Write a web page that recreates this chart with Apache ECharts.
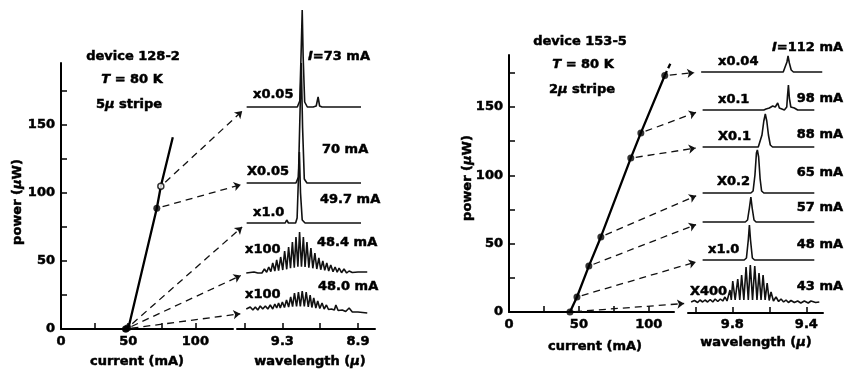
<!DOCTYPE html>
<html>
<head>
<meta charset="utf-8">
<script src="https://cdn.jsdelivr.net/npm/echarts@6/dist/echarts.min.js"></script>
<style>
html, body { margin: 0; padding: 0; background: #fff; }
#main { width: 849px; height: 373px; }
</style>
</head>
<body>
<div id="main"></div>
<script>
// ---- device 128-2 (left) ----
// light-current curve, current in mA, power in uW
var leftLineI = [50, 71.3, 74.3, 83.2];
var leftLineP = [0, 88.5, 104.6, 140.5];
// operating points where the spectra were taken
var leftDotI = [48.0, 48.4, 49.7, 71.3, 74.3];
var leftDotP = [0, 0, 1, 88.5, 104.6];
var leftSpecNames = ['48.0 mA', '48.4 mA', '49.7 mA', '70 mA', 'I=73 mA'];
var leftSpecScale = ['x100', 'x100', 'x1.0', 'X0.05', 'x0.05'];
var leftSpecOffset = [16, 56, 106, 146, 222];
// spectra: wavelength (micron) / relative intensity
var spL480W = [9.491, 9.470, 9.456, 9.443, 9.430, 9.417, 9.404, 9.390, 9.377, 9.364, 9.351, 9.340, 9.330, 9.320, 9.311, 9.300, 9.289, 9.278, 9.267, 9.256, 9.246, 9.236, 9.225, 9.215, 9.205, 9.195, 9.184, 9.174, 9.163, 9.153, 9.144, 9.134, 9.123, 9.113, 9.102, 9.090, 9.079, 9.067, 9.056, 9.040, 9.025, 9.017, 9.005, 8.983, 8.965, 8.947, 8.930, 8.900, 8.851];
var spL480V = [4, 6, 3, 6, 3, 7, 4, 7, 4, 8, 4, 9, 5, 10, 5, 11, 5.5, 13, 6, 16, 6.3, 20, 6.5, 21, 6.5, 22, 6.5, 21, 6, 18, 5.5, 15, 5, 12, 4.5, 10, 4, 8, 3.5, 4, 3, 8, 2.5, 3, 1.5, 5, 1, 1, 0];
var spL484W = [9.491, 9.450, 9.430, 9.421, 9.408, 9.395, 9.383, 9.372, 9.361, 9.351, 9.340, 9.330, 9.320, 9.309, 9.298, 9.288, 9.277, 9.267, 9.257, 9.247, 9.237, 9.228, 9.218, 9.209, 9.199, 9.189, 9.180, 9.170, 9.160, 9.149, 9.139, 9.128, 9.118, 9.107, 9.097, 9.086, 9.076, 9.065, 9.055, 9.044, 9.032, 9.021, 9.010, 9.000, 8.987, 8.974, 8.960, 8.947, 8.930, 8.900, 8.851];
var spL484V = [0, 1, 0, 2, 0, 4, 0.7, 6, 1.3, 10, 2, 13, 2.3, 16, 3, 22, 3.7, 26, 4.7, 31, 5.3, 36, 6.3, 41, 6.3, 36, 6, 31, 5.3, 25, 4.7, 20, 4, 15, 3.3, 12, 2.7, 10, 2, 8, 1.3, 6, 0.7, 5, 0.3, 4, 0, 2, 0.5, 1, 1];
var spL497W = [9.489, 9.300, 9.292, 9.285, 9.277, 9.268, 9.255, 9.230, 9.222, 9.215, 9.210, 9.204, 9.195, 9.180, 8.884];
var spL497V = [0, 0, 2, 0, 3, 0, 0, 0, 5, 45, 71, 30, 3, 0, 0];
var spL700W = [9.489, 9.228, 9.215, 9.208, 9.200, 9.193, 9.184, 9.170, 8.884];
var spL700V = [0, 0, 6, 60, 120, 55, 4, 0, 0];
var spL730W = [9.489, 9.221, 9.208, 9.200, 9.195, 9.190, 9.182, 9.168, 9.137, 9.121, 9.111, 9.103, 9.090, 8.884];
var spL730V = [0, 0, 6, 60, 97, 50, 5, 0, 0, 1, 10, 1, 0, 0];

// ---- device 153-5 (right) ----
var rightDotI = [43.6, 48.6, 57.1, 65.7, 87.1, 94.3, 111.4];
var rightDotP = [0, 11, 33.6, 54.9, 112.6, 131, 173];
var rightExtI = [111.4, 116];
var rightExtP = [173, 183];
var rightSpecNames = ['43 mA', '48 mA', '57 mA', '65 mA', '88 mA', '98 mA', 'I=112 mA'];
var rightSpecScale = ['X400', 'x1.0', '', 'X0.2', 'X0.1', 'x0.1', 'x0.04'];
var rightSpecOffset = [10, 53, 91, 120, 166, 203, 241];
var spR43W = [10.023, 10.005, 9.988, 9.975, 9.961, 9.948, 9.934, 9.920, 9.906, 9.893, 9.879, 9.865, 9.852, 9.840, 9.829, 9.813, 9.806, 9.798, 9.785, 9.771, 9.760, 9.750, 9.738, 9.726, 9.714, 9.703, 9.691, 9.679, 9.667, 9.656, 9.645, 9.634, 9.623, 9.612, 9.601, 9.591, 9.578, 9.564, 9.550, 9.537, 9.523, 9.510, 9.497, 9.483, 9.465, 9.447, 9.430, 9.411, 9.390, 9.375, 9.350, 9.330];
var spR43V = [1, 2.5, 0.5, 3, 1, 3, 1, 3.5, 1, 4, 1.5, 4, 2, 6, 2, 13, 3, 22, 3, 24, 3, 28, 3, 36, 3, 38, 3, 37, 3, 30, 3, 28, 3, 20, 2.5, 11, 2, 6, 1.5, 4, 1, 3, 0.5, 2.5, 0.5, 2, 0, 2, 0, 2, 0.5, 1];
var spR48W = [9.961, 9.736, 9.724, 9.714, 9.708, 9.702, 9.692, 9.680, 9.357];
var spR48V = [0, 0, 2, 20, 35, 20, 2, 0, 0];
var spR57W = [9.961, 9.730, 9.718, 9.708, 9.700, 9.693, 9.683, 9.672, 9.357];
var spR57V = [0, 0, 2, 14, 25, 14, 2, 0, 0];
var spR65W = [9.961, 9.700, 9.688, 9.678, 9.670, 9.665, 9.658, 9.650, 9.642, 9.630, 9.357];
var spR65V = [0, 0, 2, 18, 40, 43, 36, 14, 2, 0, 0];
var spR88W = [9.961, 9.660, 9.650, 9.640, 9.630, 9.622, 9.614, 9.605, 9.595, 9.583, 9.357];
var spR88V = [0, 0, 2, 12, 26, 33, 26, 12, 2, 0, 0];
var spR98W = [9.961, 9.630, 9.618, 9.609, 9.600, 9.591, 9.582, 9.575, 9.568, 9.561, 9.555, 9.546, 9.537, 9.519, 9.506, 9.502, 9.497, 9.492, 9.484, 9.476, 9.465, 9.447, 9.357];
var spR98V = [0, 0, 1, 0, 2, 1, 4, 2, 3, 5, 7, 2, 1, 0, 3, 14, 25, 12, 3, 2, 2, 0, 0];
var spR112W = [9.969, 9.525, 9.515, 9.505, 9.499, 9.492, 9.482, 9.470, 9.314];
var spR112V = [0, 0, 2, 10, 16, 9, 2, 0, 0];

// axis ticks
var liTicksY = [25, 50, 75, 100, 125, 150, 175];
var liLabelsY = [0, 50, 100, 150];
var liTicksX = [25, 50, 75, 100];
var liLabelsX = [0, 50, 100];
var leftWlTicks = [8.9, 9.1, 9.3, 9.5];
var leftWlLabels = [8.9, 9.3];
var rightWlTicks = [9.4, 9.6, 9.8, 10.0];
var rightWlLabels = [9.4, 9.8];

var leftSpecW = [spL480W, spL484W, spL497W, spL700W, spL730W];
var leftSpecV = [spL480V, spL484V, spL497V, spL700V, spL730V];
var rightSpecW = [spR43W, spR48W, spR57W, spR65W, spR88W, spR98W, spR112W];
var rightSpecV = [spR43V, spR48V, spR57V, spR65V, spR88V, spR98V, spR112V];

function zip(a, b) {
    var out = [];
    for (var i = 0; i < a.length; i++) out.push([a[i], b[i]]);
    return out;
}

var FONT = {fontFamily: 'DejaVu Sans', fontWeight: 'bold', fontSize: 13, stroke: '#000', lineWidth: 0.5};
var axisLabelStyle = {color: '#000', fontFamily: 'DejaVu Sans', fontWeight: 'bold', fontSize: 13,
    textBorderColor: '#000', textBorderWidth: 0.5};
var axLine = {show: true, onZero: false, lineStyle: {color: '#000', width: 2}};

function liX(grid, max, margin) {
    return {
        gridIndex: grid, type: 'value', min: 0, max: max,
        axisLine: axLine,
        axisTick: {show: true, inside: true, length: 6, customValues: liTicksX, lineStyle: {color: '#000', width: 1.5}},
        axisLabel: Object.assign({customValues: liLabelsX, margin: margin}, axisLabelStyle),
        splitLine: {show: false}
    };
}
function liY(grid, max) {
    return {
        gridIndex: grid, type: 'value', min: 0, max: max,
        axisLine: axLine,
        axisTick: {show: true, inside: true, length: 6, customValues: liTicksY, lineStyle: {color: '#000', width: 1.5}},
        axisLabel: Object.assign({customValues: liLabelsY, margin: 6}, axisLabelStyle),
        splitLine: {show: false}
    };
}
function wlX(grid, min, max, ticks, labels, margin) {
    return {
        gridIndex: grid, type: 'value', min: min, max: max, inverse: true,
        axisLine: axLine,
        axisTick: {show: true, inside: true, length: 6, customValues: ticks, lineStyle: {color: '#000', width: 1.5}},
        axisLabel: Object.assign({customValues: labels, margin: margin, formatter: function (v) { return v.toFixed(1); }}, axisLabelStyle),
        splitLine: {show: false}
    };
}
function hiddenY(grid, max) {
    return {gridIndex: grid, type: 'value', min: 0, max: max, show: false, splitLine: {show: false}};
}

var series = [];
series.push({
    type: 'line', xAxisIndex: 0, yAxisIndex: 0, data: zip(leftLineI, leftLineP),
    symbol: 'none', lineStyle: {color: '#000', width: 2.3}, z: 3
});
series.push({
    type: 'scatter', xAxisIndex: 0, yAxisIndex: 0, symbolSize: 7, z: 4,
    data: zip(leftDotI, leftDotP).map(function (d, i) {
        if (i === leftDotI.length - 1) {
            return {value: d, symbolSize: 6, itemStyle: {color: '#fff', borderColor: '#000', borderWidth: 1.5}};
        }
        return {value: d, itemStyle: {color: '#000'}};
    })
});
leftSpecW.forEach(function (w, k) {
    series.push({
        type: 'line', xAxisIndex: 1, yAxisIndex: 1, symbol: 'none',
        data: zip(w, leftSpecV[k].map(function (v) { return v + leftSpecOffset[k]; })),
        lineStyle: {color: '#111', width: 1.6}, z: 3
    });
});
series.push({
    type: 'line', xAxisIndex: 2, yAxisIndex: 2, data: zip(rightDotI, rightDotP),
    symbol: 'none', lineStyle: {color: '#000', width: 2.3}, z: 3
});
series.push({
    type: 'line', xAxisIndex: 2, yAxisIndex: 2, data: zip(rightExtI, rightExtP),
    symbol: 'none', lineStyle: {color: '#000', width: 2.3, type: [5, 3]}, z: 3
});
series.push({
    type: 'scatter', xAxisIndex: 2, yAxisIndex: 2, symbolSize: 7, z: 4,
    itemStyle: {color: '#000'}, data: zip(rightDotI, rightDotP)
});
rightSpecW.forEach(function (w, k) {
    series.push({
        type: 'line', xAxisIndex: 3, yAxisIndex: 3, symbol: 'none',
        data: zip(w, rightSpecV[k].map(function (v) { return v + rightSpecOffset[k]; })),
        lineStyle: {color: '#111', width: 1.6}, z: 3
    });
});

function label(x, y, s, align, rot) {
    return {
        type: 'text', x: x, y: y, rotation: rot || 0, silent: true, z: 10,
        style: Object.assign({
            text: s, fill: '#000', textAlign: align || 'left', textVerticalAlign: 'middle',
            align: align || 'left', verticalAlign: 'middle',
            rich: {i: Object.assign({fontStyle: 'italic', fill: '#000'}, FONT)}
        }, FONT)
    };
}
function rich(s) { return s.replace(/^I=/, '{i|I}='); }

var graphic = [
    label(133, 57, 'device 128-2', 'center'),
    label(132, 80, '{i|T} = 80 K', 'center'),
    label(129, 105, '5{i|μ} stripe', 'center'),
    label(580, 42, 'device 153-5', 'center'),
    label(583, 65, '{i|T} = 80 K', 'center'),
    label(582, 90, '2{i|μ} stripe', 'center'),
    label(137, 362, 'current (mA)', 'center'),
    label(310, 362, 'wavelength ({i|μ})', 'center'),
    label(18, 202, 'power ({i|μ}W)', 'center', Math.PI / 2),
    label(595, 347, 'current (mA)', 'center'),
    label(756, 343, 'wavelength ({i|μ})', 'center'),
    label(468, 178, 'power ({i|μ}W)', 'center', Math.PI / 2)
];
var leftNamePos = [[318, 287], [317, 243], [320, 200], [322, 150], [308, 57]];
var leftScalePos = [[245, 295], [245, 250], [253, 213], [247, 172], [253, 95]];
leftSpecNames.forEach(function (s, k) {
    graphic.push(label(leftNamePos[k][0], leftNamePos[k][1], rich(s), 'left'));
    graphic.push(label(leftScalePos[k][0], leftScalePos[k][1], leftSpecScale[k], 'left'));
});
var rightNameY = [287, 245, 208, 173, 135, 99, 48];
var rightScalePos = [[690, 292], [708, 250], [0, 0], [717, 182], [718, 137], [718, 100], [718, 62]];
rightSpecNames.forEach(function (s, k) {
    graphic.push(label(843, rightNameY[k], rich(s), 'right'));
    if (rightSpecScale[k]) {
        graphic.push(label(rightScalePos[k][0], rightScalePos[k][1], rightSpecScale[k], 'left'));
    }
});

var option = {
    animation: false,
    backgroundColor: '#fff',
    grid: [
        {left: 61, top: 63, width: 172, height: 266, outerBoundsMode: 'none'},
        {left: 237, top: 5, width: 138, height: 324, outerBoundsMode: 'none'},
        {left: 509, top: 55, width: 165, height: 257, outerBoundsMode: 'none'},
        {left: 688, top: 5, width: 135, height: 308, outerBoundsMode: 'none'},
        {left: 0, top: 0, width: 849, height: 373, outerBoundsMode: 'none'}
    ],
    xAxis: [
        liX(0, 128, 6),
        wlX(1, 8.81, 9.54, leftWlTicks, leftWlLabels, 6),
        liX(2, 118, 6),
        wlX(3, 9.31, 10.04, rightWlTicks, rightWlLabels, 5),
        {gridIndex: 4, type: 'value', min: 0, max: 849, show: false, splitLine: {show: false}}
    ],
    yAxis: [
        liY(0, 195),
        hiddenY(1, 324),
        liY(2, 188),
        hiddenY(3, 308),
        {gridIndex: 4, type: 'value', min: 0, max: 373, inverse: true, show: false, splitLine: {show: false}}
    ],
    graphic: graphic,
    series: series
};

var myChart = echarts.init(document.getElementById('main'));
myChart.setOption(option);

// dashed arrows from each operating point to the start of its spectrum
function arrow(p0, p1, gap0, gap1) {
    var dx = p1[0] - p0[0], dy = p1[1] - p0[1];
    var d = Math.sqrt(dx * dx + dy * dy);
    var ux = dx / d, uy = dy / d;
    return {coords: [[p0[0] + ux * gap0, p0[1] + uy * gap0], [p1[0] - ux * gap1, p1[1] - uy * gap1]]};
}
var arrows = [];
leftDotI.forEach(function (I, k) {
    var a = myChart.convertToPixel({gridIndex: 0}, [I, leftDotP[k]]);
    var b = myChart.convertToPixel({gridIndex: 1}, [leftSpecW[k][0], leftSpecOffset[k]]);
    arrows.push(arrow(a, b, 6, 6));
});
rightDotI.forEach(function (I, k) {
    var a = myChart.convertToPixel({gridIndex: 2}, [I, rightDotP[k]]);
    var b = myChart.convertToPixel({gridIndex: 3}, [rightSpecW[k][0], rightSpecOffset[k]]);
    arrows.push(arrow(a, b, 5, 7));
});
series.push({
    type: 'lines', coordinateSystem: 'cartesian2d', xAxisIndex: 4, yAxisIndex: 4,
    symbol: ['none', 'arrow'], symbolSize: 7, z: 2,
    lineStyle: {color: '#111', width: 1.3, type: [7, 5], opacity: 1},
    data: arrows
});
myChart.setOption({series: series});
</script>
</body>
</html>
